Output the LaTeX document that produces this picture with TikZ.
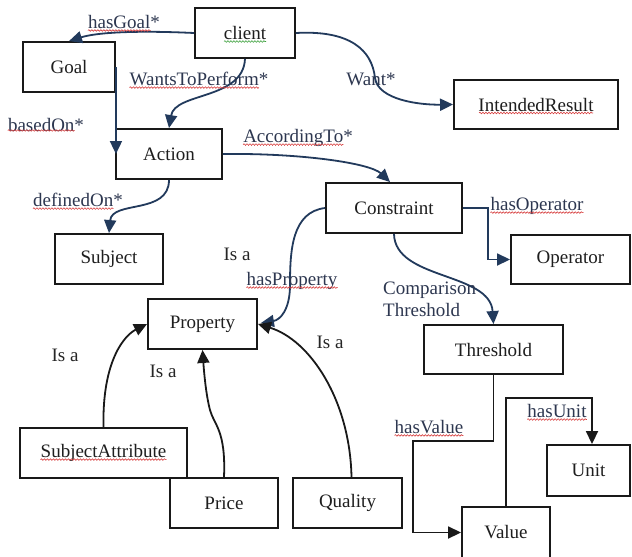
\documentclass[tikz,border=0pt]{standalone}
\usepackage{fontspec}
\setmainfont{Liberation Serif}
\newfontfamily\diagfont{Liberation Serif}
\usetikzlibrary{arrows.meta,decorations.pathmorphing}
\definecolor{linkblue}{RGB}{34,58,92}
\definecolor{labelgray}{RGB}{45,55,80}
\definecolor{boxtext}{RGB}{30,30,30}
\definecolor{spellred}{RGB}{215,60,60}
\definecolor{spellgreen}{RGB}{60,160,60}

\begin{document}
\begin{tikzpicture}[x=1pt,y=-1pt,
  box/.style={draw=black!90, line width=1.9pt, inner sep=0pt, text=boxtext,
    font=\diagfont\fontsize{19}{22}\selectfont},
  lbl/.style={inner sep=0pt, font=\diagfont\fontsize{19}{22}\selectfont, text=labelgray},
  isa/.style={lbl, text=black!85},
  rel/.style={draw=linkblue, line width=1.8pt, -{Triangle[length=13pt,width=12pt]}},
  relk/.style={draw=black!90, line width=1.8pt, -{Triangle[length=13pt,width=12pt]}},
  squig/.style={draw=spellred, line width=0.6pt, decorate,
    decoration={snake, amplitude=0.8pt, segment length=3pt}},
  squiggreen/.style={squig, draw=spellgreen},
]
% canvas
\fill[white] (0,0) rectangle (632,557);
\useasboundingbox (0,0) rectangle (632,557);

% classes
\node[box, minimum width=100pt, minimum height=50pt] (client)   at (245,33)    {client};
\node[box, minimum width=92pt,  minimum height=50pt] (goal)     at (69,67)     {Goal};
\node[box, minimum width=106pt, minimum height=50pt] (action)   at (169,154)   {Action};
\node[box, minimum width=164pt, minimum height=49pt] (intended) at (536,104.5) {IntendedResult};
\node[box, minimum width=136pt, minimum height=50pt] (constraint) at (394,208) {Constraint};
\node[box, minimum width=119pt, minimum height=49pt] (operator) at (570.5,259.5) {Operator};
\node[box, minimum width=108pt, minimum height=50pt] (subject)  at (109,259)   {Subject};
\node[box, minimum width=109pt, minimum height=50pt] (property) at (202.5,324) {Property};
\node[box, minimum width=139pt, minimum height=49pt] (threshold) at (493.5,349.5) {Threshold};
\node[box, minimum width=167pt, minimum height=50pt] (subjattr) at (103.5,453) {SubjectAttribute};
\node[box, minimum width=108pt, minimum height=50pt] (price)    at (224,503)   {Price};
\node[box, minimum width=109pt, minimum height=50pt] (quality)  at (347.5,503) {Quality};
\node[box, minimum width=88pt,  minimum height=51pt] (value)    at (506,532.5) {Value};
\node[box, minimum width=83pt,  minimum height=51pt] (unit)     at (588.5,470.5) {Unit};

% relations
\draw[rel] (client.west) .. controls (130,30) and (95,33) .. (goal.north);
\draw[rel] (client.south) .. controls (243,100) and (175,92) .. (action.north);
\draw[rel] (client.east) .. controls (350,30) and (372,50) .. (375,78)
                         .. controls (378,100) and (420,105) .. (intended.west);
\draw[rel] (goal.east) -- (goal.east |- action.west);
\draw[rel] (action.east) .. controls (300,153) and (370,163) .. ([xshift=-4pt]constraint.north);
\draw[rel] (action.south) .. controls (169,215) and (112,200) .. (subject.north);
\draw[rel] (constraint.west) .. controls (292,212) and (290,250) .. (290,285)
                             .. controls (290,310) and (280,320) .. ([xshift=3pt,yshift=1pt]property.east);
\draw[rel] (constraint.east) -- ++(25,0) |- (operator.west);
\draw[rel] (constraint.south) .. controls (395,280) and (490,272) .. (threshold.north);

\coordinate (valturn) at (413,441);
\coordinate (unitturn) at (592,398);
\draw[relk] (threshold.south) |- (valturn) |- (value.west);
\draw[relk] (value.north) |- (unitturn) -- (unitturn |- unit.north);

% is-a links
\draw[relk] (subjattr.north) .. controls (102,360) and (125,335) .. (property.west);
\draw[relk] (price.north) .. controls (226,430) and (214,425) .. (210,410)
                          .. controls (206,395) and (204,372) .. (property.south);
\draw[relk] ([xshift=4pt]quality.north) .. controls (350,400) and (310,340) .. (property.east);

% relation labels
\node[lbl] (lhasgoal) at (124,22)  {hasGoal*};
\node[lbl] (lwants)   at (199,79)  {WantsToPerform*};
\node[lbl] (lwant)    at (371,79)  {Want*};
\node[lbl] (lbased)   at (46,125)  {basedOn*};
\node[lbl] (laccord)  at (298,138) {AccordingTo*};
\node[lbl] (ldefined) at (78,200)  {definedOn*};
\node[isa] (lisa1)    at (237,254) {Is a};
\node[lbl] (lhasprop) at (292,281) {hasProperty};
\node[lbl] (lhasop)   at (537,206) {hasOperator};
\node[lbl, anchor=west, align=left] (lcomp) at (383,299) {Comparison\\Threshold};
\node[isa] (lisa2)    at (330,342) {Is a};
\node[isa] (lisa3)    at (65,355)  {Is a};
\node[isa] (lisa4)    at (163,371) {Is a};
\node[lbl] (lhasval)  at (429,427) {hasValue};
\node[lbl] (lhasunit) at (557,411) {hasUnit};

% spell-check underlines
\draw[squiggreen] ([xshift=-21pt,yshift=-2pt]client.base) -- ([xshift=21pt,yshift=-2pt]client.base);
\draw[squig] ([xshift=-57pt,yshift=-2pt]intended.base) -- ([xshift=57pt,yshift=-2pt]intended.base);
\draw[squig] ([xshift=-63pt,yshift=-2pt]subjattr.base) -- ([xshift=63pt,yshift=-2pt]subjattr.base);
\draw[squig] ([yshift=-2pt]lhasgoal.base west) -- ([xshift=-9.5pt,yshift=-2pt]lhasgoal.base east);
\draw[squig] ([yshift=-2pt]lwants.base west) -- ([xshift=-9.5pt,yshift=-2pt]lwants.base east);
\draw[squig] ([yshift=1pt]lbased.base west) -- ([xshift=-9.5pt,yshift=1pt]lbased.base east);
\draw[squig] ([yshift=-2pt]laccord.base west) -- ([xshift=-9.5pt,yshift=-2pt]laccord.base east);
\draw[squig] ([yshift=-2pt]ldefined.base west) -- ([xshift=-9.5pt,yshift=-2pt]ldefined.base east);
\draw[squig] ([yshift=-2pt]lhasprop.base west) -- ([yshift=-2pt]lhasprop.base east);
\draw[squig] ([yshift=-2pt]lhasop.base west) -- ([yshift=-2pt]lhasop.base east);
\draw[squig] ([yshift=-2pt]lhasval.base west) -- ([yshift=-2pt]lhasval.base east);
\draw[squig] ([yshift=-2pt]lhasunit.base west) -- ([yshift=-2pt]lhasunit.base east);
\end{tikzpicture}
\end{document}
